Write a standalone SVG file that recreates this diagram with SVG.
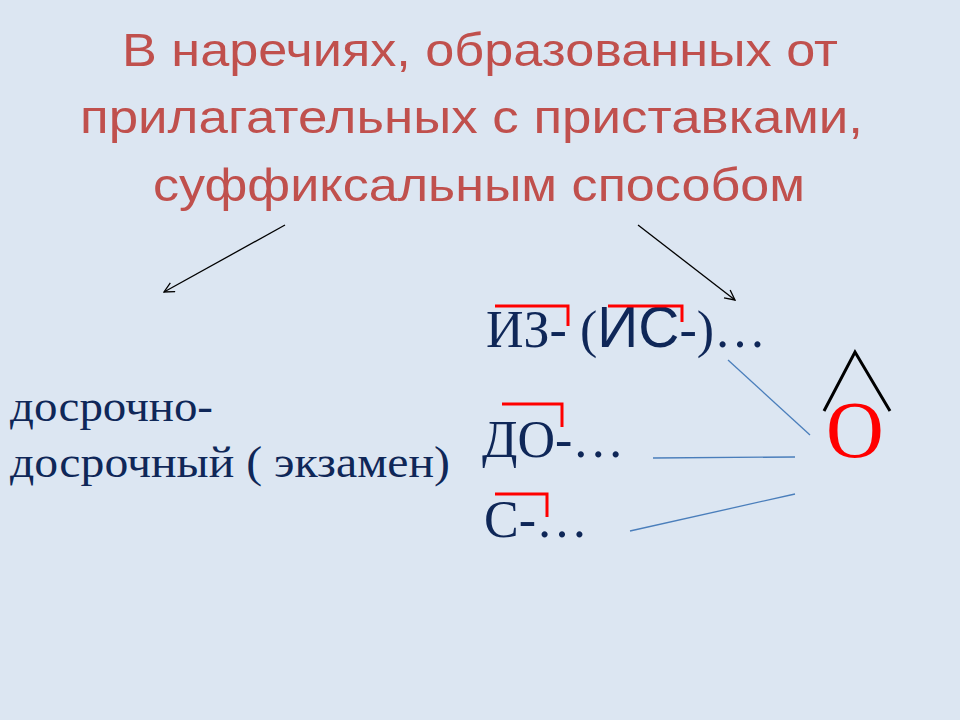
<svg xmlns="http://www.w3.org/2000/svg" width="960" height="720" viewBox="0 0 960 720">
<style>
.title{font-family:"Liberation Sans","DejaVu Sans",sans-serif;font-size:46px;fill:#c0504d}
.serif{font-family:"Liberation Serif","DejaVu Serif",serif;fill:#0f2758}
.br{fill:none;stroke:#ff0000;stroke-width:3}
.blue{stroke:#4a7ebb;stroke-width:1.3;fill:none}
.arr{stroke:#000;stroke-width:1.3;fill:none}
</style>
<defs>
<marker id="ah" viewBox="0 0 12 12" refX="11" refY="6" markerWidth="12" markerHeight="12" markerUnits="userSpaceOnUse" orient="auto">
<path d="M1,1 L11,6 L1,11" fill="none" stroke="#000" stroke-width="1.3"/>
</marker>
</defs>
<rect width="960" height="720" fill="#dce6f2"/>
<g id="title">
<text class="title" x="122" y="66" textLength="716" lengthAdjust="spacingAndGlyphs">В наречиях, образованных от</text>
<text class="title" x="80" y="133" textLength="783" lengthAdjust="spacingAndGlyphs">прилагательных с приставками,</text>
<text class="title" x="153" y="201" textLength="652" lengthAdjust="spacingAndGlyphs">суффиксальным способом</text>
</g>
<g id="left">
<text class="serif" x="10" y="421" font-size="45" textLength="203" lengthAdjust="spacingAndGlyphs">досрочно-</text>
<text class="serif" x="10" y="477" font-size="45" textLength="440" lengthAdjust="spacingAndGlyphs">досрочный ( экзамен)</text>
</g>
<g id="iz">
<text class="serif" x="486" y="347" font-size="52">ИЗ- (<tspan font-family="Liberation Sans, sans-serif" font-size="57">ИС</tspan>-)…</text>
<polyline class="br" points="495,306 568,306 568,326"/>
<polyline class="br" points="608,306 682,306 682,322"/>
</g>
<g id="do">
<text class="serif" x="482" y="457" font-size="52">ДО-…</text>
<polyline class="br" points="502,404 562,404 562,427"/>
</g>
<g id="s">
<text class="serif" x="484" y="537" font-size="52">С-…</text>
<polyline class="br" points="495,494 547,494 547,517"/>
</g>
<g id="o">
<text x="855" y="457" font-family="Liberation Serif, serif" font-size="80" fill="#ff0000" text-anchor="middle">О</text>
<polyline points="824,411 855,352 890,411" fill="none" stroke="#000" stroke-width="3"/>
</g>
<g id="connectors">
<line class="arr" x1="285" y1="225" x2="164" y2="292" marker-end="url(#ah)"/>
<line class="arr" x1="638" y1="225" x2="735" y2="300" marker-end="url(#ah)"/>
<line class="blue" x1="728" y1="360" x2="810" y2="435"/>
<line class="blue" x1="653" y1="458" x2="795" y2="457"/>
<line class="blue" x1="630" y1="531" x2="795" y2="494"/>
</g>
</svg>
